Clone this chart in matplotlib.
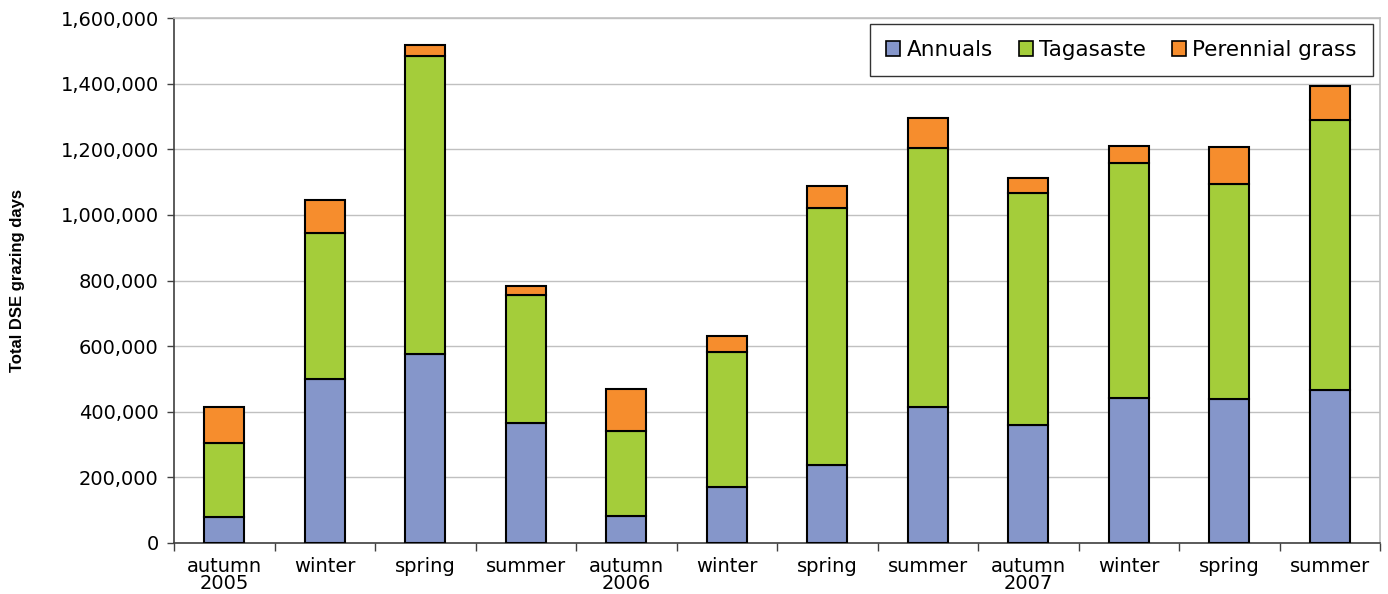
import matplotlib
matplotlib.use("Agg")
import matplotlib.pyplot as plt
from matplotlib.ticker import FuncFormatter, FixedLocator
import numpy as np

categories = ["autumn\n2005", "winter", "spring", "summer", "autumn\n2006", "winter",
              "spring", "summer", "autumn\n2007", "winter", "spring", "summer"]
annuals = [79000, 500000, 575000, 366000, 82000, 171000, 238000, 414000, 360000, 441000, 438000, 466000]
tagasaste = [226000, 444000, 908000, 390000, 259000, 412000, 784000, 789000, 707000, 716000, 655000, 823000]
perennial = [110000, 101000, 36000, 27000, 128000, 48000, 66000, 91000, 46000, 52000, 114000, 104000]
series_names = ["Annuals", "Tagasaste", "Perennial grass"]
colors = ["#8596CA", "#A4CD3A", "#F68D2D"]

plt.rcParams['font.family'] = ['DejaVu Sans']

fig = plt.figure(figsize=(13.88, 5.94), dpi=100)
ax = fig.add_axes([174/1388, 1-543/594, (1380-174)/1388, (543-18)/594])

x = np.arange(len(categories))
w = 0.40
bottom = np.zeros(len(categories))
for vals, name, c in zip([annuals, tagasaste, perennial], series_names, colors):
    ax.bar(x, vals, w, bottom=bottom, color=c, edgecolor="black", linewidth=1.5,
           label=name, zorder=3)
    bottom = bottom + np.array(vals)

ax.set_xlim(-0.5, len(categories) - 0.5)
ax.set_ylim(0, 1600000)
ax.set_yticks(np.arange(0, 1600001, 200000))
ax.yaxis.set_major_formatter(FuncFormatter(lambda v, p: f"{int(v):,}"))
ax.grid(axis="y", color="#C0C0C0", linewidth=1, zorder=0)

ax.set_xticks(x)
ax.set_xticklabels(categories, fontsize=14, linespacing=0.88)
ax.xaxis.set_minor_locator(FixedLocator(np.arange(-0.5, len(categories), 1.0)))
ax.tick_params(axis="x", which="major", length=0, pad=10)
ax.tick_params(axis="x", which="minor", length=6, width=1, color="#404040", direction="out")
ax.tick_params(axis="y", length=5, width=1, color="#404040", direction="out", labelsize=14, pad=6)

for s in ["left", "bottom"]:
    ax.spines[s].set_color("#404040")
    ax.spines[s].set_linewidth(1.2)
for s in ["top", "right"]:
    ax.spines[s].set_color("#C0C0C0")
    ax.spines[s].set_linewidth(1.2)

ax.set_ylabel("Total DSE grazing days", fontsize=12, fontweight="bold",
              family=["Liberation Sans Narrow", "Liberation Sans", "DejaVu Sans"])
ax.yaxis.set_label_coords((25 - 174) / 1206, 0.5)

leg = ax.legend(loc="upper right", bbox_to_anchor=(0.994, 0.989), ncol=3, fontsize=15.5,
                frameon=True, fancybox=False, edgecolor="black", handlelength=0.65,
                handleheight=0.65, handletextpad=0.3, columnspacing=1.2,
                borderpad=0.75, borderaxespad=0)
leg.get_frame().set_linewidth(1.0)
for h in leg.legend_handles:
    h.set_linewidth(1.2)

fig.savefig("out.png", dpi=100)
